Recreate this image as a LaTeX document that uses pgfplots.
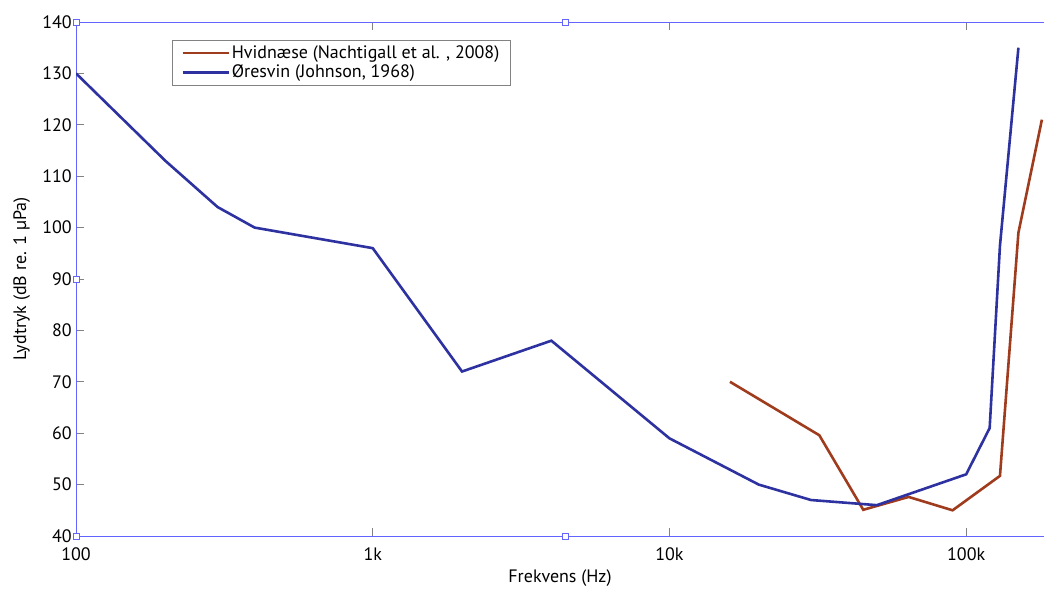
\documentclass[border=0pt]{standalone}
\usepackage{pgfplots}
\pgfplotsset{compat=1.18}
\usetikzlibrary{calc}
\usepackage{fontspec}
\setmainfont{PT Sans}
\definecolor{cred}{RGB}{160,60,30}
\definecolor{cblue}{RGB}{45,50,160}
\definecolor{selblue}{RGB}{100,100,255}
\definecolor{tickgray}{RGB}{130,130,130}
\begin{document}
\fontsize{18bp}{21bp}\selectfont
\begin{tikzpicture}
\begin{axis}[
  name=ax,
  scale only axis,
  width=968bp, height=514bp,
  xmode=log,
  xmin=100, xmax=183000,
  ymin=40, ymax=140,
  ytick={40,50,...,140},
  xtick={100,1000,10000,100000},
  xticklabels={100,1k,10k,100k},
  log basis x=10,
  axis x line*=box,
  axis y line*=left,
  axis line style={selblue, line width=0.9bp},
  tick style={tickgray, line width=0.8bp},
  major tick length=8bp,
  minor tick length=5bp,
  tick align=inside,
  /pgf/number format/assume math mode=true,
  ticklabel style={font=\fontsize{18bp}{21bp}\selectfont},
  xticklabel style={yshift=-5bp},
  yticklabel style={xshift=2bp},
  xlabel={Frekvens (Hz)},
  ylabel={Lydtryk (dB re. 1 µPa)},
  label style={font=\fontsize{18bp}{21bp}\selectfont},
  xlabel style={yshift=3bp},
  ylabel style={yshift=0bp},
  legend cell align=left,
  legend style={at={(0.099,0.965)}, anchor=north west, draw=tickgray, line width=0.8bp,
    font=\fontsize{18bp}{21bp}\selectfont, inner xsep=9bp, inner ysep=3bp, row sep=0bp},
  legend image code/.code={\draw[#1, line width=2.6bp] (0bp,0bp) -- (46bp,0bp);},
  clip=true,
]
\addplot[cred, line width=2.6bp] coordinates {
  (16000,70) (32000,59.6) (45000,45.1) (64000,47.6) (90000,45) (130000,51.7) (150000,99) (180000,121)
};
\addlegendentry{Hvidnæse (Nachtigall et al. , 2008)}
\addplot[cblue, line width=2.6bp] coordinates {
  (100,130) (200,113) (300,104) (400,100) (1000,96) (2000,72) (4000,78) (10000,59)
  (20000,50) (30000,47) (50000,46) (100000,52) (120000,61) (130000,96.5) (150000,135)
};
\addlegendentry{Øresvin (Johnson, 1968)}
\end{axis}
\foreach \p in {(ax.south west),(ax.north west),(ax.west)} {
  \draw[selblue, fill=white, line width=0.8bp] \p ++(-3bp,-3bp) rectangle ++(6bp,6bp);
}
\draw[selblue, fill=white, line width=0.8bp] ($(ax.south west)!0.506!(ax.south east)$) ++(-3bp,-3bp) rectangle ++(6bp,6bp);
\draw[selblue, fill=white, line width=0.8bp] ($(ax.north west)!0.506!(ax.north east)$) ++(-3bp,-3bp) rectangle ++(6bp,6bp);
\pgfresetboundingbox
\path[use as bounding box] ([xshift=-76bp,yshift=-53bp]ax.south west) rectangle ([yshift=22bp]ax.north east);
\end{tikzpicture}
\end{document}
